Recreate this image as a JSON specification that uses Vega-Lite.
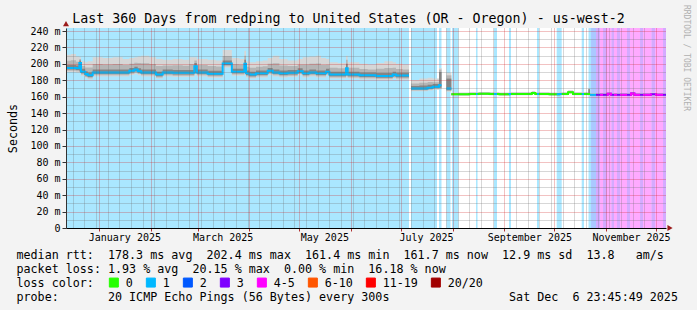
{
  "$schema": "https://vega.github.io/schema/vega-lite/v6.json",
  "width": 600,
  "height": 200,
  "autosize": {"type": "none"},
  "padding": {"left": 66, "top": 28, "right": 31, "bottom": 82},
  "background": "#f3f3f3",
  "title": {
    "text": "Last 360 Days from redping to United States (OR - Oregon) - us-west-2",
    "anchor": "middle", "frame": "group", "dx": -17.5, "offset": -31,
    "baseline": "alphabetic", "font": "DejaVu Sans Mono", "fontSize": 13.3,
    "fontWeight": "normal", "color": "#000000"
  },
  "config": {"view": {"fill": "#ffffff", "stroke": null}, "font": "DejaVu Sans Mono"},
  "datasets": {
    "bands": [
      {"t": "2024-12-11T23:45:49Z", "t2": "2025-07-05T19:00Z", "loss": "1"},
      {"t": "2025-07-07T00:00Z", "t2": "2025-07-22T14:00Z", "loss": "1"},
      {"t": "2025-07-23T19:00Z", "t2": "2025-07-25T07:00Z", "loss": "1"},
      {"t": "2025-07-28T07:00Z", "t2": "2025-07-30T17:00Z", "loss": "1"},
      {"t": "2025-07-31T14:00Z", "t2": "2025-08-04T10:00Z", "loss": "1"},
      {"t": "2025-08-15T00:00Z", "t2": "2025-08-15T22:00Z", "loss": "1"},
      {"t": "2025-08-25T19:00Z", "t2": "2025-08-27T14:00Z", "loss": "1"},
      {"t": "2025-09-03T19:00Z", "t2": "2025-09-05T00:00Z", "loss": "1"},
      {"t": "2025-09-20T14:00Z", "t2": "2025-09-21T19:00Z", "loss": "1"},
      {"t": "2025-10-02T10:00Z", "t2": "2025-10-05T10:00Z", "loss": "1"},
      {"t": "2025-10-17T10:00Z", "t2": "2025-10-18T19:00Z", "loss": "1"},
      {"t": "2025-10-21T12:00Z", "t2": "2025-10-23T00:00Z", "loss": "1"},
      {"t": "2025-10-23T00:00Z", "t2": "2025-10-26T00:00Z", "loss": "2"},
      {"t": "2025-10-26T00:00Z", "t2": "2025-10-28T10:00Z", "loss": "3"},
      {"t": "2025-10-28T10:00Z", "t2": "2025-10-30T05:00Z", "loss": "4-5"},
      {"t": "2025-10-30T05:00Z", "t2": "2025-11-01T14:00Z", "loss": "3"},
      {"t": "2025-11-01T14:00Z", "t2": "2025-11-04T07:00Z", "loss": "4-5"},
      {"t": "2025-11-04T07:00Z", "t2": "2025-11-05T19:00Z", "loss": "3"},
      {"t": "2025-11-05T19:00Z", "t2": "2025-11-07T14:00Z", "loss": "4-5"},
      {"t": "2025-11-07T14:00Z", "t2": "2025-11-09T10:00Z", "loss": "3"},
      {"t": "2025-11-09T10:00Z", "t2": "2025-11-13T14:00Z", "loss": "4-5"},
      {"t": "2025-11-13T14:00Z", "t2": "2025-11-15T10:00Z", "loss": "3"},
      {"t": "2025-11-15T10:00Z", "t2": "2025-11-21T10:00Z", "loss": "4-5"},
      {"t": "2025-11-21T10:00Z", "t2": "2025-11-23T05:00Z", "loss": "3"},
      {"t": "2025-11-23T05:00Z", "t2": "2025-11-28T07:00Z", "loss": "4-5"},
      {"t": "2025-11-28T07:00Z", "t2": "2025-11-30T10:00Z", "loss": "3"},
      {"t": "2025-11-30T10:00Z", "t2": "2025-12-05T05:00Z", "loss": "4-5"},
      {"t": "2025-12-05T05:00Z", "t2": "2025-12-06T23:45:49Z", "loss": "3"}
    ],
    "rtt": [
      {"t": "2024-12-11T23:45:49Z", "seg": "A", "loss": "1", "m": 195, "lo1": 190, "hi1": 211, "lo2": 191.5, "hi2": 203.8, "lo3": 193, "hi3": 198.5},
      {"t": "2024-12-15", "seg": "A", "loss": "1", "m": 195, "lo1": 190, "hi1": 212, "lo2": 191.5, "hi2": 204.4, "lo3": 193, "hi3": 198.5},
      {"t": "2024-12-18", "seg": "A", "loss": "1", "m": 194.5, "lo1": 189.5, "hi1": 209, "lo2": 191, "hi2": 202.5, "lo3": 192.5, "hi3": 198},
      {"t": "2024-12-20", "seg": "A", "loss": "1", "m": 201, "lo1": 189, "hi1": 208, "lo2": 190, "hi2": 206, "lo3": 191, "hi3": 204},
      {"t": "2024-12-21", "seg": "A", "loss": "1", "m": 190.5, "lo1": 185.5, "hi1": 203, "lo2": 187, "hi2": 197.4, "lo3": 188.5, "hi3": 194},
      {"t": "2024-12-23T12:00Z", "seg": "A", "loss": "1", "m": 187.5, "lo1": 182.5, "hi1": 202, "lo2": 184, "hi2": 195.5, "lo3": 185.5, "hi3": 191},
      {"t": "2024-12-25", "seg": "A", "loss": "1", "m": 186, "lo1": 181, "hi1": 203, "lo2": 182.5, "hi2": 195.4, "lo3": 184, "hi3": 189.5},
      {"t": "2024-12-28", "seg": "A", "loss": "1", "m": 189.5, "lo1": 184.5, "hi1": 208, "lo2": 186, "hi2": 199.7, "lo3": 187.5, "hi3": 193},
      {"t": "2025-01-03", "seg": "A", "loss": "1", "m": 189.5, "lo1": 184.5, "hi1": 207, "lo2": 186, "hi2": 199.1, "lo3": 187.5, "hi3": 193},
      {"t": "2025-01-09", "seg": "A", "loss": "1", "m": 189.5, "lo1": 184.5, "hi1": 208, "lo2": 186, "hi2": 199.7, "lo3": 187.5, "hi3": 193},
      {"t": "2025-01-15", "seg": "A", "loss": "1", "m": 189.5, "lo1": 184.5, "hi1": 206, "lo2": 186, "hi2": 198.6, "lo3": 187.5, "hi3": 193},
      {"t": "2025-01-19", "seg": "A", "loss": "1", "m": 191.5, "lo1": 186.5, "hi1": 207, "lo2": 188, "hi2": 200, "lo3": 189.5, "hi3": 195},
      {"t": "2025-01-22", "seg": "A", "loss": "1", "m": 193, "lo1": 188, "hi1": 208, "lo2": 189.5, "hi2": 201.2, "lo3": 191, "hi3": 196.5},
      {"t": "2025-01-24", "seg": "A", "loss": "1", "m": 191, "lo1": 186, "hi1": 209, "lo2": 187.5, "hi2": 200.9, "lo3": 189, "hi3": 194.5},
      {"t": "2025-01-26", "seg": "A", "loss": "1", "m": 189.5, "lo1": 184.5, "hi1": 210, "lo2": 186, "hi2": 200.8, "lo3": 187.5, "hi3": 193},
      {"t": "2025-01-31", "seg": "A", "loss": "1", "m": 189.5, "lo1": 184.5, "hi1": 208, "lo2": 186, "hi2": 199.7, "lo3": 187.5, "hi3": 193},
      {"t": "2025-02-04", "seg": "A", "loss": "1", "m": 187, "lo1": 182, "hi1": 206, "lo2": 183.5, "hi2": 197.5, "lo3": 185, "hi3": 190.5},
      {"t": "2025-02-08", "seg": "A", "loss": "1", "m": 189.5, "lo1": 184.5, "hi1": 205, "lo2": 186, "hi2": 198, "lo3": 187.5, "hi3": 193},
      {"t": "2025-02-14", "seg": "A", "loss": "1", "m": 189, "lo1": 184, "hi1": 206, "lo2": 185.5, "hi2": 198.4, "lo3": 187, "hi3": 192.5},
      {"t": "2025-02-20", "seg": "A", "loss": "1", "m": 189, "lo1": 184, "hi1": 205, "lo2": 185.5, "hi2": 197.8, "lo3": 187, "hi3": 192.5},
      {"t": "2025-02-24", "seg": "A", "loss": "1", "m": 189, "lo1": 184, "hi1": 208, "lo2": 185.5, "hi2": 199.5, "lo3": 187, "hi3": 192.5},
      {"t": "2025-02-27", "seg": "A", "loss": "1", "m": 197, "lo1": 186, "hi1": 208, "lo2": 188, "hi2": 204, "lo3": 189, "hi3": 201},
      {"t": "2025-02-28T12:00Z", "seg": "A", "loss": "1", "m": 189.5, "lo1": 184.5, "hi1": 206, "lo2": 186, "hi2": 198.6, "lo3": 187.5, "hi3": 193},
      {"t": "2025-03-07", "seg": "A", "loss": "1", "m": 188, "lo1": 183, "hi1": 205, "lo2": 184.5, "hi2": 197.4, "lo3": 186, "hi3": 191.5},
      {"t": "2025-03-12", "seg": "A", "loss": "1", "m": 188, "lo1": 183, "hi1": 204, "lo2": 184.5, "hi2": 196.8, "lo3": 186, "hi3": 191.5},
      {"t": "2025-03-16", "seg": "A", "loss": "1", "m": 200.5, "lo1": 195.5, "hi1": 217, "lo2": 197, "hi2": 209.6, "lo3": 198.5, "hi3": 204},
      {"t": "2025-03-21T12:00Z", "seg": "A", "loss": "1", "m": 190.5, "lo1": 185.5, "hi1": 207, "lo2": 187, "hi2": 199.6, "lo3": 188.5, "hi3": 194},
      {"t": "2025-03-26", "seg": "A", "loss": "1", "m": 190.5, "lo1": 185.5, "hi1": 206, "lo2": 187, "hi2": 199, "lo3": 188.5, "hi3": 194},
      {"t": "2025-03-29", "seg": "A", "loss": "1", "m": 200, "lo1": 187, "hi1": 216, "lo2": 188.5, "hi2": 210, "lo3": 190, "hi3": 205},
      {"t": "2025-03-30", "seg": "A", "loss": "1", "m": 188.5, "lo1": 183.5, "hi1": 203, "lo2": 185, "hi2": 196.5, "lo3": 186.5, "hi3": 192},
      {"t": "2025-04-01", "seg": "A", "loss": "1", "m": 187, "lo1": 182, "hi1": 202, "lo2": 183.5, "hi2": 195.3, "lo3": 185, "hi3": 190.5},
      {"t": "2025-04-05", "seg": "A", "loss": "1", "m": 188.5, "lo1": 183.5, "hi1": 203, "lo2": 185, "hi2": 196.5, "lo3": 186.5, "hi3": 192},
      {"t": "2025-04-09", "seg": "A", "loss": "1", "m": 188.5, "lo1": 183.5, "hi1": 204, "lo2": 185, "hi2": 197, "lo3": 186.5, "hi3": 192},
      {"t": "2025-04-12", "seg": "A", "loss": "1", "m": 191.5, "lo1": 186.5, "hi1": 207, "lo2": 188, "hi2": 200, "lo3": 189.5, "hi3": 195},
      {"t": "2025-04-15", "seg": "A", "loss": "1", "m": 189.5, "lo1": 184.5, "hi1": 210, "lo2": 186, "hi2": 200.8, "lo3": 187.5, "hi3": 193},
      {"t": "2025-04-19", "seg": "A", "loss": "1", "m": 188.5, "lo1": 183.5, "hi1": 206, "lo2": 185, "hi2": 198.1, "lo3": 186.5, "hi3": 192},
      {"t": "2025-04-24", "seg": "A", "loss": "1", "m": 189, "lo1": 184, "hi1": 204, "lo2": 185.5, "hi2": 197.3, "lo3": 187, "hi3": 192.5},
      {"t": "2025-04-30", "seg": "A", "loss": "1", "m": 191, "lo1": 186, "hi1": 206, "lo2": 187.5, "hi2": 199.3, "lo3": 189, "hi3": 194.5},
      {"t": "2025-05-03", "seg": "A", "loss": "1", "m": 188.5, "lo1": 183.5, "hi1": 208, "lo2": 185, "hi2": 199.2, "lo3": 186.5, "hi3": 192},
      {"t": "2025-05-07", "seg": "A", "loss": "1", "m": 189.5, "lo1": 184.5, "hi1": 209, "lo2": 186, "hi2": 200.2, "lo3": 187.5, "hi3": 193},
      {"t": "2025-05-11", "seg": "A", "loss": "1", "m": 188.5, "lo1": 183.5, "hi1": 210, "lo2": 185, "hi2": 200.3, "lo3": 186.5, "hi3": 192},
      {"t": "2025-05-14", "seg": "A", "loss": "1", "m": 188.5, "lo1": 183.5, "hi1": 207, "lo2": 185, "hi2": 198.7, "lo3": 186.5, "hi3": 192},
      {"t": "2025-05-17", "seg": "A", "loss": "1", "m": 190.5, "lo1": 185.5, "hi1": 206, "lo2": 187, "hi2": 199, "lo3": 188.5, "hi3": 194},
      {"t": "2025-05-19", "seg": "A", "loss": "1", "m": 187, "lo1": 182, "hi1": 202, "lo2": 183.5, "hi2": 195.3, "lo3": 185, "hi3": 190.5},
      {"t": "2025-05-24", "seg": "A", "loss": "1", "m": 187, "lo1": 182, "hi1": 201, "lo2": 183.5, "hi2": 194.7, "lo3": 185, "hi3": 190.5},
      {"t": "2025-05-29", "seg": "A", "loss": "1", "m": 194.5, "lo1": 183.5, "hi1": 210, "lo2": 185, "hi2": 205, "lo3": 186, "hi3": 200},
      {"t": "2025-05-30", "seg": "A", "loss": "1", "m": 187, "lo1": 182, "hi1": 202, "lo2": 183.5, "hi2": 195.3, "lo3": 185, "hi3": 190.5},
      {"t": "2025-06-06", "seg": "A", "loss": "1", "m": 186, "lo1": 181, "hi1": 200, "lo2": 182.5, "hi2": 193.7, "lo3": 184, "hi3": 189.5},
      {"t": "2025-06-11", "seg": "A", "loss": "1", "m": 186, "lo1": 181, "hi1": 199, "lo2": 182.5, "hi2": 193.2, "lo3": 184, "hi3": 189.5},
      {"t": "2025-06-16", "seg": "A", "loss": "1", "m": 185.2, "lo1": 180.2, "hi1": 201, "lo2": 181.7, "hi2": 193.9, "lo3": 183.2, "hi3": 188.7},
      {"t": "2025-06-21", "seg": "A", "loss": "1", "m": 185.2, "lo1": 180.2, "hi1": 203, "lo2": 181.7, "hi2": 195, "lo3": 183.2, "hi3": 188.7},
      {"t": "2025-06-26", "seg": "A", "loss": "1", "m": 187, "lo1": 182, "hi1": 202, "lo2": 183.5, "hi2": 195.3, "lo3": 185, "hi3": 190.5},
      {"t": "2025-06-28", "seg": "A", "loss": "1", "m": 185.7, "lo1": 180.7, "hi1": 200, "lo2": 182.2, "hi2": 193.6, "lo3": 183.7, "hi3": 189.2},
      {"t": "2025-07-02", "seg": "A", "loss": "1", "m": 185.7, "lo1": 180.7, "hi1": 199, "lo2": 182.2, "hi2": 193, "lo3": 183.7, "hi3": 189.2},
      {"t": "2025-07-05T19:00Z", "seg": "A", "loss": "1", "m": 185.7, "lo1": 180.7, "hi1": 199, "lo2": 182.2, "hi2": 193, "lo3": 183.7, "hi3": 189.2},
      {"t": "2025-07-07", "seg": "B", "loss": "1", "m": 170, "lo1": 166.5, "hi1": 180, "lo2": 167.5, "hi2": 176, "lo3": 168.5, "hi3": 173},
      {"t": "2025-07-12", "seg": "B", "loss": "1", "m": 170, "lo1": 166.5, "hi1": 182, "lo2": 167.5, "hi2": 177, "lo3": 168.5, "hi3": 173.5},
      {"t": "2025-07-17", "seg": "B", "loss": "1", "m": 171, "lo1": 167.5, "hi1": 183, "lo2": 168.5, "hi2": 178, "lo3": 169.5, "hi3": 174.5},
      {"t": "2025-07-20", "seg": "B", "loss": "1", "m": 172, "lo1": 168.5, "hi1": 182, "lo2": 169.5, "hi2": 177.5, "lo3": 170.5, "hi3": 175.5},
      {"t": "2025-07-23T19:00Z", "seg": "B", "loss": "1", "m": 174, "lo1": 169, "hi1": 195, "lo2": 170, "hi2": 193, "lo3": 171, "hi3": 190},
      {"t": "2025-07-25T07:00Z", "seg": "B", "loss": "1", "m": 174, "lo1": 169, "hi1": 195, "lo2": 170, "hi2": 193, "lo3": 171, "hi3": 190},
      {"t": "2025-07-28T07:00Z", "seg": "B2", "loss": "1", "m": 170, "lo1": 166, "hi1": 189, "lo2": 167, "hi2": 186, "lo3": 168, "hi3": 182},
      {"t": "2025-07-31T05:00Z", "seg": "B2", "loss": "1", "m": 170, "lo1": 166, "hi1": 189, "lo2": 167, "hi2": 186, "lo3": 168, "hi3": 182},
      {"t": "2025-07-31T05:00Z", "seg": "C", "loss": "0", "m": 163, "lo1": 161.4, "hi1": 165.2, "lo2": 161.8, "hi2": 164.5, "lo3": 162.2, "hi3": 163.9},
      {"t": "2025-08-05", "seg": "C", "loss": "0", "m": 162.8, "lo1": 161.2, "hi1": 165, "lo2": 161.6, "hi2": 164.3, "lo3": 162, "hi3": 163.7},
      {"t": "2025-08-11", "seg": "C", "loss": "0", "m": 163.3, "lo1": 161.7, "hi1": 165.5, "lo2": 162.1, "hi2": 164.8, "lo3": 162.5, "hi3": 164.2},
      {"t": "2025-08-17", "seg": "C", "loss": "0", "m": 163.5, "lo1": 161.9, "hi1": 165.7, "lo2": 162.3, "hi2": 165, "lo3": 162.7, "hi3": 164.4},
      {"t": "2025-08-23", "seg": "C", "loss": "0", "m": 163.3, "lo1": 161.7, "hi1": 165.5, "lo2": 162.1, "hi2": 164.8, "lo3": 162.5, "hi3": 164.2},
      {"t": "2025-08-29", "seg": "C", "loss": "0", "m": 163, "lo1": 161.4, "hi1": 165.2, "lo2": 161.8, "hi2": 164.5, "lo3": 162.2, "hi3": 163.9},
      {"t": "2025-09-04", "seg": "C", "loss": "0", "m": 163.3, "lo1": 161.7, "hi1": 165.5, "lo2": 162.1, "hi2": 164.8, "lo3": 162.5, "hi3": 164.2},
      {"t": "2025-09-17T12:00Z", "seg": "C", "loss": "0", "m": 164.5, "lo1": 162.9, "hi1": 166.7, "lo2": 163.3, "hi2": 166, "lo3": 163.7, "hi3": 165.4},
      {"t": "2025-09-19T12:00Z", "seg": "C", "loss": "0", "m": 163.3, "lo1": 161.7, "hi1": 165.5, "lo2": 162.1, "hi2": 164.8, "lo3": 162.5, "hi3": 164.2},
      {"t": "2025-09-28", "seg": "C", "loss": "0", "m": 163, "lo1": 161.4, "hi1": 165.2, "lo2": 161.8, "hi2": 164.5, "lo3": 162.2, "hi3": 163.9},
      {"t": "2025-10-04", "seg": "C", "loss": "0", "m": 163.3, "lo1": 161.7, "hi1": 165.5, "lo2": 162.1, "hi2": 164.8, "lo3": 162.5, "hi3": 164.2},
      {"t": "2025-10-09T05:00Z", "seg": "C", "loss": "0", "m": 165.5, "lo1": 163.9, "hi1": 167.7, "lo2": 164.3, "hi2": 167, "lo3": 164.7, "hi3": 166.4},
      {"t": "2025-10-12T05:00Z", "seg": "C", "loss": "0", "m": 163.2, "lo1": 161.6, "hi1": 165.4, "lo2": 162, "hi2": 164.7, "lo3": 162.4, "hi3": 164.1},
      {"t": "2025-10-21T10:00Z", "seg": "C", "loss": "0", "m": 163.2, "lo1": 161.5, "hi1": 170, "lo2": 162, "hi2": 169.5, "lo3": 162.4, "hi3": 169},
      {"t": "2025-10-22T10:00Z", "seg": "C", "loss": "0", "m": 163.2, "lo1": 161.5, "hi1": 170, "lo2": 162, "hi2": 169.5, "lo3": 162.4, "hi3": 169},
      {"t": "2025-10-22T10:00Z", "seg": "D", "loss": "1", "m": 162.3, "lo1": 160.7, "hi1": 164.5, "lo2": 161.1, "hi2": 163.8, "lo3": 161.5, "hi3": 163.2},
      {"t": "2025-10-26", "seg": "D", "loss": "1", "m": 162.3, "lo1": 160.7, "hi1": 164.5, "lo2": 161.1, "hi2": 163.8, "lo3": 161.5, "hi3": 163.2},
      {"t": "2025-10-26", "seg": "E", "loss": "3", "m": 162.3, "lo1": 160.7, "hi1": 164.5, "lo2": 161.1, "hi2": 163.8, "lo3": 161.5, "hi3": 163.2},
      {"t": "2025-11-02", "seg": "E", "loss": "3", "m": 163.5, "lo1": 161.9, "hi1": 165.7, "lo2": 162.3, "hi2": 165, "lo3": 162.7, "hi3": 164.4},
      {"t": "2025-11-04", "seg": "E", "loss": "3", "m": 162.3, "lo1": 160.7, "hi1": 164.5, "lo2": 161.1, "hi2": 163.8, "lo3": 161.5, "hi3": 163.2},
      {"t": "2025-11-16", "seg": "E", "loss": "3", "m": 163.8, "lo1": 162.2, "hi1": 166, "lo2": 162.6, "hi2": 165.3, "lo3": 163, "hi3": 164.7},
      {"t": "2025-11-18", "seg": "E", "loss": "3", "m": 162.3, "lo1": 160.7, "hi1": 164.5, "lo2": 161.1, "hi2": 163.8, "lo3": 161.5, "hi3": 163.2},
      {"t": "2025-11-28", "seg": "E", "loss": "3", "m": 162.8, "lo1": 161.2, "hi1": 165, "lo2": 161.6, "hi2": 164.3, "lo3": 162, "hi3": 163.7},
      {"t": "2025-12-01", "seg": "E", "loss": "3", "m": 162.3, "lo1": 160.7, "hi1": 164.5, "lo2": 161.1, "hi2": 163.8, "lo3": 161.5, "hi3": 163.2},
      {"t": "2025-12-06T23:45:49Z", "seg": "E", "loss": "3", "m": 162.3, "lo1": 160.7, "hi1": 164.5, "lo2": 161.1, "hi2": 163.8, "lo3": 161.5, "hi3": 163.2}
    ],
    "ov": [
      {"t": "2025-08-15T00:00Z", "seg": "o1", "loss": "1", "m": 163.3},
      {"t": "2025-08-15T22:00Z", "seg": "o1", "loss": "1", "m": 163.3},
      {"t": "2025-08-25T19:00Z", "seg": "o2", "loss": "1", "m": 163.3},
      {"t": "2025-08-27T14:00Z", "seg": "o2", "loss": "1", "m": 163.3},
      {"t": "2025-09-03T19:00Z", "seg": "o3", "loss": "1", "m": 163},
      {"t": "2025-09-04T00:00Z", "seg": "o3", "loss": "1", "m": 163.3},
      {"t": "2025-09-05T00:00Z", "seg": "o3", "loss": "1", "m": 163.3},
      {"t": "2025-09-20T14:00Z", "seg": "o4", "loss": "1", "m": 163.3},
      {"t": "2025-09-21T19:00Z", "seg": "o4", "loss": "1", "m": 163.3},
      {"t": "2025-10-02T10:00Z", "seg": "o5", "loss": "1", "m": 163},
      {"t": "2025-10-04T00:00Z", "seg": "o5", "loss": "1", "m": 163.3},
      {"t": "2025-10-05T10:00Z", "seg": "o5", "loss": "1", "m": 163.3},
      {"t": "2025-10-17T10:00Z", "seg": "o6", "loss": "1", "m": 163.2},
      {"t": "2025-10-18T19:00Z", "seg": "o6", "loss": "1", "m": 163.2},
      {"t": "2025-10-28T10:00Z", "seg": "p1", "loss": "4-5", "m": 162.3},
      {"t": "2025-10-30T05:00Z", "seg": "p1", "loss": "4-5", "m": 162.3},
      {"t": "2025-11-01T14:00Z", "seg": "p2", "loss": "4-5", "m": 162.3},
      {"t": "2025-11-02T00:00Z", "seg": "p2", "loss": "4-5", "m": 163.5},
      {"t": "2025-11-04T00:00Z", "seg": "p2", "loss": "4-5", "m": 162.3},
      {"t": "2025-11-04T07:00Z", "seg": "p2", "loss": "4-5", "m": 162.3},
      {"t": "2025-11-05T19:00Z", "seg": "p3", "loss": "4-5", "m": 162.3},
      {"t": "2025-11-07T14:00Z", "seg": "p3", "loss": "4-5", "m": 162.3},
      {"t": "2025-11-09T10:00Z", "seg": "p4", "loss": "4-5", "m": 162.3},
      {"t": "2025-11-13T14:00Z", "seg": "p4", "loss": "4-5", "m": 162.3},
      {"t": "2025-11-15T10:00Z", "seg": "p5", "loss": "4-5", "m": 162.3},
      {"t": "2025-11-16T00:00Z", "seg": "p5", "loss": "4-5", "m": 163.8},
      {"t": "2025-11-18T00:00Z", "seg": "p5", "loss": "4-5", "m": 162.3},
      {"t": "2025-11-21T10:00Z", "seg": "p5", "loss": "4-5", "m": 162.3},
      {"t": "2025-11-23T05:00Z", "seg": "p6", "loss": "4-5", "m": 162.3},
      {"t": "2025-11-28T00:00Z", "seg": "p6", "loss": "4-5", "m": 162.8},
      {"t": "2025-11-28T07:00Z", "seg": "p6", "loss": "4-5", "m": 162.8},
      {"t": "2025-11-30T10:00Z", "seg": "p7", "loss": "4-5", "m": 162.8},
      {"t": "2025-12-01T00:00Z", "seg": "p7", "loss": "4-5", "m": 162.3},
      {"t": "2025-12-05T05:00Z", "seg": "p7", "loss": "4-5", "m": 162.3}
    ],
    "credit": [
      {"label": "RRDTOOL / TOBI OETIKER"}
    ]
  },
  "layer": [
    {
      "encoding": {
        "x": {
          "field": "t", "type": "temporal",
          "scale": {"type": "utc", "domain": [
            {"year": 2024, "month": 12, "date": 11, "hours": 23, "minutes": 45, "seconds": 49, "utc": true},
            {"year": 2025, "month": 12, "date": 6, "hours": 23, "minutes": 45, "seconds": 49, "utc": true}
          ]},
          "axis": {"values": [{"year": 2024, "month": 12, "date": 16, "utc": true}, {"year": 2024, "month": 12, "date": 23, "utc": true}, {"year": 2024, "month": 12, "date": 30, "utc": true}, {"year": 2025, "month": 1, "date": 1, "utc": true}, {"year": 2025, "month": 1, "date": 6, "utc": true}, {"year": 2025, "month": 1, "date": 13, "utc": true}, {"year": 2025, "month": 1, "date": 16, "utc": true}, {"year": 2025, "month": 1, "date": 20, "utc": true}, {"year": 2025, "month": 1, "date": 27, "utc": true}, {"year": 2025, "month": 2, "date": 1, "utc": true}, {"year": 2025, "month": 2, "date": 3, "utc": true}, {"year": 2025, "month": 2, "date": 10, "utc": true}, {"year": 2025, "month": 2, "date": 17, "utc": true}, {"year": 2025, "month": 2, "date": 24, "utc": true}, {"year": 2025, "month": 3, "date": 1, "utc": true}, {"year": 2025, "month": 3, "date": 3, "utc": true}, {"year": 2025, "month": 3, "date": 10, "utc": true}, {"year": 2025, "month": 3, "date": 16, "utc": true}, {"year": 2025, "month": 3, "date": 17, "utc": true}, {"year": 2025, "month": 3, "date": 24, "utc": true}, {"year": 2025, "month": 3, "date": 31, "utc": true}, {"year": 2025, "month": 4, "date": 1, "utc": true}, {"year": 2025, "month": 4, "date": 7, "utc": true}, {"year": 2025, "month": 4, "date": 14, "utc": true}, {"year": 2025, "month": 4, "date": 21, "utc": true}, {"year": 2025, "month": 4, "date": 28, "utc": true}, {"year": 2025, "month": 5, "date": 1, "utc": true}, {"year": 2025, "month": 5, "date": 5, "utc": true}, {"year": 2025, "month": 5, "date": 12, "utc": true}, {"year": 2025, "month": 5, "date": 16, "utc": true}, {"year": 2025, "month": 5, "date": 19, "utc": true}, {"year": 2025, "month": 5, "date": 26, "utc": true}, {"year": 2025, "month": 6, "date": 1, "utc": true}, {"year": 2025, "month": 6, "date": 2, "utc": true}, {"year": 2025, "month": 6, "date": 9, "utc": true}, {"year": 2025, "month": 6, "date": 16, "utc": true}, {"year": 2025, "month": 6, "date": 23, "utc": true}, {"year": 2025, "month": 6, "date": 30, "utc": true}, {"year": 2025, "month": 7, "date": 1, "utc": true}, {"year": 2025, "month": 7, "date": 7, "utc": true}, {"year": 2025, "month": 7, "date": 14, "utc": true}, {"year": 2025, "month": 7, "date": 16, "utc": true}, {"year": 2025, "month": 7, "date": 21, "utc": true}, {"year": 2025, "month": 7, "date": 28, "utc": true}, {"year": 2025, "month": 8, "date": 1, "utc": true}, {"year": 2025, "month": 8, "date": 4, "utc": true}, {"year": 2025, "month": 8, "date": 11, "utc": true}, {"year": 2025, "month": 8, "date": 18, "utc": true}, {"year": 2025, "month": 8, "date": 25, "utc": true}, {"year": 2025, "month": 9, "date": 1, "utc": true}, {"year": 2025, "month": 9, "date": 8, "utc": true}, {"year": 2025, "month": 9, "date": 15, "utc": true}, {"year": 2025, "month": 9, "date": 16, "utc": true}, {"year": 2025, "month": 9, "date": 22, "utc": true}, {"year": 2025, "month": 9, "date": 29, "utc": true}, {"year": 2025, "month": 10, "date": 1, "utc": true}, {"year": 2025, "month": 10, "date": 6, "utc": true}, {"year": 2025, "month": 10, "date": 13, "utc": true}, {"year": 2025, "month": 10, "date": 20, "utc": true}, {"year": 2025, "month": 10, "date": 27, "utc": true}, {"year": 2025, "month": 11, "date": 1, "utc": true}, {"year": 2025, "month": 11, "date": 3, "utc": true}, {"year": 2025, "month": 11, "date": 10, "utc": true}, {"year": 2025, "month": 11, "date": 16, "utc": true}, {"year": 2025, "month": 11, "date": 17, "utc": true}, {"year": 2025, "month": 11, "date": 24, "utc": true}, {"year": 2025, "month": 12, "date": 1, "utc": true}], "labelExpr": "utcdate(datum.value) == 16 && utcmonth(datum.value) % 2 == 0 ? utcFormat(datum.value, '%B %Y') : ''", "labelFont": "DejaVu Sans Mono", "labelFontSize": 10, "labelColor": "#000000", "labelPadding": 1, "labelOverlap": false, "labelFlush": false, "labelBound": false, "tickSize": 3, "tickColor": "#b03030", "tickOpacity": {"condition": {"test": "utcdate(datum.value) == 1", "value": 1}, "value": 0}, "grid": true, "gridDash": [1, 1], "gridWidth": 1, "gridColor": {"condition": {"test": "utcdate(datum.value) == 1", "value": "#d02020"}, "value": "#707070"}, "gridOpacity": {"condition": {"test": "utcdate(datum.value) == 16 && utcmonth(datum.value) % 2 == 0", "value": 0}, "value": 0.55}, "domainColor": "#000000", "domainWidth": 1, "title": ["median rtt:\u00a0\u00a0178.3 ms avg\u00a0\u00a0202.4 ms max\u00a0\u00a0161.4 ms min\u00a0\u00a0161.7 ms now\u00a0\u00a012.9 ms sd\u00a0\u00a013.8\u00a0\u00a0\u00a0am/s", "packet loss: 1.93 % avg\u00a0\u00a020.15 % max\u00a0\u00a00.00 % min\u00a0\u00a016.18 % now", "loss color:", "probe:\u00a0\u00a0\u00a0\u00a0\u00a0\u00a0\u00a020 ICMP Echo Pings (56 Bytes) every 300s\u00a0\u00a0\u00a0\u00a0\u00a0\u00a0\u00a0\u00a0\u00a0\u00a0\u00a0\u00a0\u00a0\u00a0\u00a0\u00a0\u00a0Sat Dec\u00a0\u00a06 23:45:49 2025"], "titleX": -50, "titleY": 30, "titleAlign": "left", "titleAnchor": "start", "titleBaseline": "alphabetic", "titleFont": "DejaVu Sans Mono", "titleFontSize": 11.7, "titleFontWeight": "normal", "titleColor": "#000000", "titleLineHeight": 14, "zindex": 1}
        }
      },
      "layer": [
        {
          "data": {"name": "bands"},
          "mark": {"type": "rect", "opacity": 0.333},
          "encoding": {
            "x2": {"field": "t2"},
            "color": {
              "field": "loss", "type": "nominal",
              "scale": {"domain": ["0", "1", "2", "3", "4-5", "6-10", "11-19", "20/20"],
                        "range": ["#26ff00", "#00b8ff", "#0059ff", "#7e00ff", "#ff00ff", "#ff5500", "#ff0000", "#a10000"]},
              "legend": {
                "orient": "none", "legendX": 42, "legendY": 248.5, "direction": "horizontal",
                "title": null, "symbolType": "square", "symbolSize": 81,
                "symbolStrokeColor": "#000000", "symbolStrokeWidth": 1, "symbolOpacity": 1,
                "labelFont": "DejaVu Sans Mono", "labelFontSize": 11.7, "labelColor": "#000000",
                "labelOffset": 6, "columnPadding": 11, "padding": 0
              }
            }
          }
        },
        {
          "data": {"name": "rtt"},
          "mark": {"type": "area", "interpolate": "step-after", "color": "#d6d6d6"},
          "encoding": {
            "y": {"field": "lo1", "type": "quantitative", "stack": null,
              "scale": {"domain": [0, 243.66], "nice": false, "zero": false},
              "axis": {"orient": "left", "values": [0, 10, 20, 30, 40, 50, 60, 70, 80, 90, 100, 110, 120, 130, 140, 150, 160, 170, 180, 190, 200, 210, 220, 230, 240], "tickCount": 25, "labelExpr": "datum.value % 20 == 0 ? (datum.value == 0 ? '0\u00a0\u00a0' : datum.value + ' m') : ''", "labelFont": "DejaVu Sans Mono", "labelFontSize": 10, "labelColor": "#000000", "labelPadding": 2, "labelOverlap": false, "labelFlush": false, "labelBound": false, "tickSize": 4, "tickColor": "#333333", "tickOpacity": {"condition": {"test": "datum.value % 20 == 0", "value": 1}, "value": 0}, "grid": true, "gridDash": [1, 1], "gridWidth": 1, "gridColor": {"condition": {"test": "datum.value % 20 == 0", "value": "#d02020"}, "value": "#707070"}, "gridOpacity": 0.55, "domainColor": "#333333", "domainWidth": 1, "title": "Seconds", "titleX": -50, "titleY": 100, "titleAngle": -90, "titleAlign": "center", "titleBaseline": "alphabetic", "titleFont": "DejaVu Sans Mono", "titleFontSize": 11.7, "titleFontWeight": "normal", "titleColor": "#000000", "zindex": 1}},
            "y2": {"field": "hi1"},
            "detail": {"field": "seg"}
          }
        },
        {
          "data": {"name": "rtt"},
          "mark": {"type": "area", "interpolate": "step-after", "color": "#b5b5b5"},
          "encoding": {
            "y": {"field": "lo2", "type": "quantitative", "stack": null,
              "scale": {"domain": [0, 243.66], "nice": false, "zero": false},
              "axis": {"orient": "left", "values": [0, 10, 20, 30, 40, 50, 60, 70, 80, 90, 100, 110, 120, 130, 140, 150, 160, 170, 180, 190, 200, 210, 220, 230, 240], "tickCount": 25, "labelExpr": "datum.value % 20 == 0 ? (datum.value == 0 ? '0\u00a0\u00a0' : datum.value + ' m') : ''", "labelFont": "DejaVu Sans Mono", "labelFontSize": 10, "labelColor": "#000000", "labelPadding": 2, "labelOverlap": false, "labelFlush": false, "labelBound": false, "tickSize": 4, "tickColor": "#333333", "tickOpacity": {"condition": {"test": "datum.value % 20 == 0", "value": 1}, "value": 0}, "grid": true, "gridDash": [1, 1], "gridWidth": 1, "gridColor": {"condition": {"test": "datum.value % 20 == 0", "value": "#d02020"}, "value": "#707070"}, "gridOpacity": 0.55, "domainColor": "#333333", "domainWidth": 1, "title": "Seconds", "titleX": -50, "titleY": 100, "titleAngle": -90, "titleAlign": "center", "titleBaseline": "alphabetic", "titleFont": "DejaVu Sans Mono", "titleFontSize": 11.7, "titleFontWeight": "normal", "titleColor": "#000000", "zindex": 1}},
            "y2": {"field": "hi2"},
            "detail": {"field": "seg"}
          }
        },
        {
          "data": {"name": "rtt"},
          "mark": {"type": "area", "interpolate": "step-after", "color": "#858585"},
          "encoding": {
            "y": {"field": "lo3", "type": "quantitative", "stack": null,
              "scale": {"domain": [0, 243.66], "nice": false, "zero": false},
              "axis": {"orient": "left", "values": [0, 10, 20, 30, 40, 50, 60, 70, 80, 90, 100, 110, 120, 130, 140, 150, 160, 170, 180, 190, 200, 210, 220, 230, 240], "tickCount": 25, "labelExpr": "datum.value % 20 == 0 ? (datum.value == 0 ? '0\u00a0\u00a0' : datum.value + ' m') : ''", "labelFont": "DejaVu Sans Mono", "labelFontSize": 10, "labelColor": "#000000", "labelPadding": 2, "labelOverlap": false, "labelFlush": false, "labelBound": false, "tickSize": 4, "tickColor": "#333333", "tickOpacity": {"condition": {"test": "datum.value % 20 == 0", "value": 1}, "value": 0}, "grid": true, "gridDash": [1, 1], "gridWidth": 1, "gridColor": {"condition": {"test": "datum.value % 20 == 0", "value": "#d02020"}, "value": "#707070"}, "gridOpacity": 0.55, "domainColor": "#333333", "domainWidth": 1, "title": "Seconds", "titleX": -50, "titleY": 100, "titleAngle": -90, "titleAlign": "center", "titleBaseline": "alphabetic", "titleFont": "DejaVu Sans Mono", "titleFontSize": 11.7, "titleFontWeight": "normal", "titleColor": "#000000", "zindex": 1}},
            "y2": {"field": "hi3"},
            "detail": {"field": "seg"}
          }
        },
        {
          "data": {"name": "rtt"},
          "mark": {"type": "line", "interpolate": "step-after", "strokeWidth": 2},
          "encoding": {
            "y": {"field": "m", "type": "quantitative",
              "scale": {"domain": [0, 243.66], "nice": false, "zero": false},
              "axis": {"orient": "left", "values": [0, 10, 20, 30, 40, 50, 60, 70, 80, 90, 100, 110, 120, 130, 140, 150, 160, 170, 180, 190, 200, 210, 220, 230, 240], "tickCount": 25, "labelExpr": "datum.value % 20 == 0 ? (datum.value == 0 ? '0\u00a0\u00a0' : datum.value + ' m') : ''", "labelFont": "DejaVu Sans Mono", "labelFontSize": 10, "labelColor": "#000000", "labelPadding": 2, "labelOverlap": false, "labelFlush": false, "labelBound": false, "tickSize": 4, "tickColor": "#333333", "tickOpacity": {"condition": {"test": "datum.value % 20 == 0", "value": 1}, "value": 0}, "grid": true, "gridDash": [1, 1], "gridWidth": 1, "gridColor": {"condition": {"test": "datum.value % 20 == 0", "value": "#d02020"}, "value": "#707070"}, "gridOpacity": 0.55, "domainColor": "#333333", "domainWidth": 1, "title": "Seconds", "titleX": -50, "titleY": 100, "titleAngle": -90, "titleAlign": "center", "titleBaseline": "alphabetic", "titleFont": "DejaVu Sans Mono", "titleFontSize": 11.7, "titleFontWeight": "normal", "titleColor": "#000000", "zindex": 1}},
            "stroke": {
              "field": "loss", "type": "nominal", "legend": null,
              "scale": {"domain": ["0", "1", "2", "3", "4-5", "6-10", "11-19", "20/20"],
                        "range": ["#26ff00", "#00b8ff", "#0059ff", "#7e00ff", "#ff00ff", "#ff5500", "#ff0000", "#a10000"]}
            },
            "detail": {"field": "seg"}
          }
        },
        {
          "data": {"name": "ov"},
          "mark": {"type": "line", "interpolate": "step-after", "strokeWidth": 2},
          "encoding": {
            "y": {"field": "m", "type": "quantitative",
              "scale": {"domain": [0, 243.66], "nice": false, "zero": false},
              "axis": {"orient": "left", "values": [0, 10, 20, 30, 40, 50, 60, 70, 80, 90, 100, 110, 120, 130, 140, 150, 160, 170, 180, 190, 200, 210, 220, 230, 240], "tickCount": 25, "labelExpr": "datum.value % 20 == 0 ? (datum.value == 0 ? '0\u00a0\u00a0' : datum.value + ' m') : ''", "labelFont": "DejaVu Sans Mono", "labelFontSize": 10, "labelColor": "#000000", "labelPadding": 2, "labelOverlap": false, "labelFlush": false, "labelBound": false, "tickSize": 4, "tickColor": "#333333", "tickOpacity": {"condition": {"test": "datum.value % 20 == 0", "value": 1}, "value": 0}, "grid": true, "gridDash": [1, 1], "gridWidth": 1, "gridColor": {"condition": {"test": "datum.value % 20 == 0", "value": "#d02020"}, "value": "#707070"}, "gridOpacity": 0.55, "domainColor": "#333333", "domainWidth": 1, "title": "Seconds", "titleX": -50, "titleY": 100, "titleAngle": -90, "titleAlign": "center", "titleBaseline": "alphabetic", "titleFont": "DejaVu Sans Mono", "titleFontSize": 11.7, "titleFontWeight": "normal", "titleColor": "#000000", "zindex": 1}},
            "stroke": {"field": "loss", "type": "nominal", "legend": null},
            "detail": {"field": "seg"}
          }
        }
      ]
    },
    {
      "data": {"name": "credit"},
      "mark": {"type": "point", "shape": "triangle-up", "filled": true, "size": 36, "color": "#9b1b1b", "opacity": 1},
      "encoding": {
        "x": {"datum": {"year": 2024, "month": 12, "date": 11, "hours": 23, "minutes": 45, "seconds": 49, "utc": true}, "type": "temporal",
          "axis": {"values": [{"year": 2024, "month": 12, "date": 16, "utc": true}, {"year": 2024, "month": 12, "date": 23, "utc": true}, {"year": 2024, "month": 12, "date": 30, "utc": true}, {"year": 2025, "month": 1, "date": 1, "utc": true}, {"year": 2025, "month": 1, "date": 6, "utc": true}, {"year": 2025, "month": 1, "date": 13, "utc": true}, {"year": 2025, "month": 1, "date": 16, "utc": true}, {"year": 2025, "month": 1, "date": 20, "utc": true}, {"year": 2025, "month": 1, "date": 27, "utc": true}, {"year": 2025, "month": 2, "date": 1, "utc": true}, {"year": 2025, "month": 2, "date": 3, "utc": true}, {"year": 2025, "month": 2, "date": 10, "utc": true}, {"year": 2025, "month": 2, "date": 17, "utc": true}, {"year": 2025, "month": 2, "date": 24, "utc": true}, {"year": 2025, "month": 3, "date": 1, "utc": true}, {"year": 2025, "month": 3, "date": 3, "utc": true}, {"year": 2025, "month": 3, "date": 10, "utc": true}, {"year": 2025, "month": 3, "date": 16, "utc": true}, {"year": 2025, "month": 3, "date": 17, "utc": true}, {"year": 2025, "month": 3, "date": 24, "utc": true}, {"year": 2025, "month": 3, "date": 31, "utc": true}, {"year": 2025, "month": 4, "date": 1, "utc": true}, {"year": 2025, "month": 4, "date": 7, "utc": true}, {"year": 2025, "month": 4, "date": 14, "utc": true}, {"year": 2025, "month": 4, "date": 21, "utc": true}, {"year": 2025, "month": 4, "date": 28, "utc": true}, {"year": 2025, "month": 5, "date": 1, "utc": true}, {"year": 2025, "month": 5, "date": 5, "utc": true}, {"year": 2025, "month": 5, "date": 12, "utc": true}, {"year": 2025, "month": 5, "date": 16, "utc": true}, {"year": 2025, "month": 5, "date": 19, "utc": true}, {"year": 2025, "month": 5, "date": 26, "utc": true}, {"year": 2025, "month": 6, "date": 1, "utc": true}, {"year": 2025, "month": 6, "date": 2, "utc": true}, {"year": 2025, "month": 6, "date": 9, "utc": true}, {"year": 2025, "month": 6, "date": 16, "utc": true}, {"year": 2025, "month": 6, "date": 23, "utc": true}, {"year": 2025, "month": 6, "date": 30, "utc": true}, {"year": 2025, "month": 7, "date": 1, "utc": true}, {"year": 2025, "month": 7, "date": 7, "utc": true}, {"year": 2025, "month": 7, "date": 14, "utc": true}, {"year": 2025, "month": 7, "date": 16, "utc": true}, {"year": 2025, "month": 7, "date": 21, "utc": true}, {"year": 2025, "month": 7, "date": 28, "utc": true}, {"year": 2025, "month": 8, "date": 1, "utc": true}, {"year": 2025, "month": 8, "date": 4, "utc": true}, {"year": 2025, "month": 8, "date": 11, "utc": true}, {"year": 2025, "month": 8, "date": 18, "utc": true}, {"year": 2025, "month": 8, "date": 25, "utc": true}, {"year": 2025, "month": 9, "date": 1, "utc": true}, {"year": 2025, "month": 9, "date": 8, "utc": true}, {"year": 2025, "month": 9, "date": 15, "utc": true}, {"year": 2025, "month": 9, "date": 16, "utc": true}, {"year": 2025, "month": 9, "date": 22, "utc": true}, {"year": 2025, "month": 9, "date": 29, "utc": true}, {"year": 2025, "month": 10, "date": 1, "utc": true}, {"year": 2025, "month": 10, "date": 6, "utc": true}, {"year": 2025, "month": 10, "date": 13, "utc": true}, {"year": 2025, "month": 10, "date": 20, "utc": true}, {"year": 2025, "month": 10, "date": 27, "utc": true}, {"year": 2025, "month": 11, "date": 1, "utc": true}, {"year": 2025, "month": 11, "date": 3, "utc": true}, {"year": 2025, "month": 11, "date": 10, "utc": true}, {"year": 2025, "month": 11, "date": 16, "utc": true}, {"year": 2025, "month": 11, "date": 17, "utc": true}, {"year": 2025, "month": 11, "date": 24, "utc": true}, {"year": 2025, "month": 12, "date": 1, "utc": true}], "labelExpr": "utcdate(datum.value) == 16 && utcmonth(datum.value) % 2 == 0 ? utcFormat(datum.value, '%B %Y') : ''", "labelFont": "DejaVu Sans Mono", "labelFontSize": 10, "labelColor": "#000000", "labelPadding": 1, "labelOverlap": false, "labelFlush": false, "labelBound": false, "tickSize": 3, "tickColor": "#b03030", "tickOpacity": {"condition": {"test": "utcdate(datum.value) == 1", "value": 1}, "value": 0}, "grid": true, "gridDash": [1, 1], "gridWidth": 1, "gridColor": {"condition": {"test": "utcdate(datum.value) == 1", "value": "#d02020"}, "value": "#707070"}, "gridOpacity": {"condition": {"test": "utcdate(datum.value) == 16 && utcmonth(datum.value) % 2 == 0", "value": 0}, "value": 0.55}, "domainColor": "#000000", "domainWidth": 1, "title": ["median rtt:\u00a0\u00a0178.3 ms avg\u00a0\u00a0202.4 ms max\u00a0\u00a0161.4 ms min\u00a0\u00a0161.7 ms now\u00a0\u00a012.9 ms sd\u00a0\u00a013.8\u00a0\u00a0\u00a0am/s", "packet loss: 1.93 % avg\u00a0\u00a020.15 % max\u00a0\u00a00.00 % min\u00a0\u00a016.18 % now", "loss color:", "probe:\u00a0\u00a0\u00a0\u00a0\u00a0\u00a0\u00a020 ICMP Echo Pings (56 Bytes) every 300s\u00a0\u00a0\u00a0\u00a0\u00a0\u00a0\u00a0\u00a0\u00a0\u00a0\u00a0\u00a0\u00a0\u00a0\u00a0\u00a0\u00a0Sat Dec\u00a0\u00a06 23:45:49 2025"], "titleX": -50, "titleY": 30, "titleAlign": "left", "titleAnchor": "start", "titleBaseline": "alphabetic", "titleFont": "DejaVu Sans Mono", "titleFontSize": 11.7, "titleFontWeight": "normal", "titleColor": "#000000", "titleLineHeight": 14, "zindex": 1}},
        "y": {"datum": 249, "type": "quantitative",
          "axis": {"orient": "left", "values": [0, 10, 20, 30, 40, 50, 60, 70, 80, 90, 100, 110, 120, 130, 140, 150, 160, 170, 180, 190, 200, 210, 220, 230, 240], "tickCount": 25, "labelExpr": "datum.value % 20 == 0 ? (datum.value == 0 ? '0\u00a0\u00a0' : datum.value + ' m') : ''", "labelFont": "DejaVu Sans Mono", "labelFontSize": 10, "labelColor": "#000000", "labelPadding": 2, "labelOverlap": false, "labelFlush": false, "labelBound": false, "tickSize": 4, "tickColor": "#333333", "tickOpacity": {"condition": {"test": "datum.value % 20 == 0", "value": 1}, "value": 0}, "grid": true, "gridDash": [1, 1], "gridWidth": 1, "gridColor": {"condition": {"test": "datum.value % 20 == 0", "value": "#d02020"}, "value": "#707070"}, "gridOpacity": 0.55, "domainColor": "#333333", "domainWidth": 1, "title": "Seconds", "titleX": -50, "titleY": 100, "titleAngle": -90, "titleAlign": "center", "titleBaseline": "alphabetic", "titleFont": "DejaVu Sans Mono", "titleFontSize": 11.7, "titleFontWeight": "normal", "titleColor": "#000000", "zindex": 1}}
      }
    },
    {
      "data": {"name": "credit"},
      "mark": {"type": "point", "shape": "triangle-right", "filled": true, "size": 36, "color": "#9b1b1b", "opacity": 1},
      "encoding": {
        "x": {"datum": {"year": 2025, "month": 12, "date": 9, "hours": 10, "utc": true}, "type": "temporal",
          "axis": {"values": [{"year": 2024, "month": 12, "date": 16, "utc": true}, {"year": 2024, "month": 12, "date": 23, "utc": true}, {"year": 2024, "month": 12, "date": 30, "utc": true}, {"year": 2025, "month": 1, "date": 1, "utc": true}, {"year": 2025, "month": 1, "date": 6, "utc": true}, {"year": 2025, "month": 1, "date": 13, "utc": true}, {"year": 2025, "month": 1, "date": 16, "utc": true}, {"year": 2025, "month": 1, "date": 20, "utc": true}, {"year": 2025, "month": 1, "date": 27, "utc": true}, {"year": 2025, "month": 2, "date": 1, "utc": true}, {"year": 2025, "month": 2, "date": 3, "utc": true}, {"year": 2025, "month": 2, "date": 10, "utc": true}, {"year": 2025, "month": 2, "date": 17, "utc": true}, {"year": 2025, "month": 2, "date": 24, "utc": true}, {"year": 2025, "month": 3, "date": 1, "utc": true}, {"year": 2025, "month": 3, "date": 3, "utc": true}, {"year": 2025, "month": 3, "date": 10, "utc": true}, {"year": 2025, "month": 3, "date": 16, "utc": true}, {"year": 2025, "month": 3, "date": 17, "utc": true}, {"year": 2025, "month": 3, "date": 24, "utc": true}, {"year": 2025, "month": 3, "date": 31, "utc": true}, {"year": 2025, "month": 4, "date": 1, "utc": true}, {"year": 2025, "month": 4, "date": 7, "utc": true}, {"year": 2025, "month": 4, "date": 14, "utc": true}, {"year": 2025, "month": 4, "date": 21, "utc": true}, {"year": 2025, "month": 4, "date": 28, "utc": true}, {"year": 2025, "month": 5, "date": 1, "utc": true}, {"year": 2025, "month": 5, "date": 5, "utc": true}, {"year": 2025, "month": 5, "date": 12, "utc": true}, {"year": 2025, "month": 5, "date": 16, "utc": true}, {"year": 2025, "month": 5, "date": 19, "utc": true}, {"year": 2025, "month": 5, "date": 26, "utc": true}, {"year": 2025, "month": 6, "date": 1, "utc": true}, {"year": 2025, "month": 6, "date": 2, "utc": true}, {"year": 2025, "month": 6, "date": 9, "utc": true}, {"year": 2025, "month": 6, "date": 16, "utc": true}, {"year": 2025, "month": 6, "date": 23, "utc": true}, {"year": 2025, "month": 6, "date": 30, "utc": true}, {"year": 2025, "month": 7, "date": 1, "utc": true}, {"year": 2025, "month": 7, "date": 7, "utc": true}, {"year": 2025, "month": 7, "date": 14, "utc": true}, {"year": 2025, "month": 7, "date": 16, "utc": true}, {"year": 2025, "month": 7, "date": 21, "utc": true}, {"year": 2025, "month": 7, "date": 28, "utc": true}, {"year": 2025, "month": 8, "date": 1, "utc": true}, {"year": 2025, "month": 8, "date": 4, "utc": true}, {"year": 2025, "month": 8, "date": 11, "utc": true}, {"year": 2025, "month": 8, "date": 18, "utc": true}, {"year": 2025, "month": 8, "date": 25, "utc": true}, {"year": 2025, "month": 9, "date": 1, "utc": true}, {"year": 2025, "month": 9, "date": 8, "utc": true}, {"year": 2025, "month": 9, "date": 15, "utc": true}, {"year": 2025, "month": 9, "date": 16, "utc": true}, {"year": 2025, "month": 9, "date": 22, "utc": true}, {"year": 2025, "month": 9, "date": 29, "utc": true}, {"year": 2025, "month": 10, "date": 1, "utc": true}, {"year": 2025, "month": 10, "date": 6, "utc": true}, {"year": 2025, "month": 10, "date": 13, "utc": true}, {"year": 2025, "month": 10, "date": 20, "utc": true}, {"year": 2025, "month": 10, "date": 27, "utc": true}, {"year": 2025, "month": 11, "date": 1, "utc": true}, {"year": 2025, "month": 11, "date": 3, "utc": true}, {"year": 2025, "month": 11, "date": 10, "utc": true}, {"year": 2025, "month": 11, "date": 16, "utc": true}, {"year": 2025, "month": 11, "date": 17, "utc": true}, {"year": 2025, "month": 11, "date": 24, "utc": true}, {"year": 2025, "month": 12, "date": 1, "utc": true}], "labelExpr": "utcdate(datum.value) == 16 && utcmonth(datum.value) % 2 == 0 ? utcFormat(datum.value, '%B %Y') : ''", "labelFont": "DejaVu Sans Mono", "labelFontSize": 10, "labelColor": "#000000", "labelPadding": 1, "labelOverlap": false, "labelFlush": false, "labelBound": false, "tickSize": 3, "tickColor": "#b03030", "tickOpacity": {"condition": {"test": "utcdate(datum.value) == 1", "value": 1}, "value": 0}, "grid": true, "gridDash": [1, 1], "gridWidth": 1, "gridColor": {"condition": {"test": "utcdate(datum.value) == 1", "value": "#d02020"}, "value": "#707070"}, "gridOpacity": {"condition": {"test": "utcdate(datum.value) == 16 && utcmonth(datum.value) % 2 == 0", "value": 0}, "value": 0.55}, "domainColor": "#000000", "domainWidth": 1, "title": ["median rtt:\u00a0\u00a0178.3 ms avg\u00a0\u00a0202.4 ms max\u00a0\u00a0161.4 ms min\u00a0\u00a0161.7 ms now\u00a0\u00a012.9 ms sd\u00a0\u00a013.8\u00a0\u00a0\u00a0am/s", "packet loss: 1.93 % avg\u00a0\u00a020.15 % max\u00a0\u00a00.00 % min\u00a0\u00a016.18 % now", "loss color:", "probe:\u00a0\u00a0\u00a0\u00a0\u00a0\u00a0\u00a020 ICMP Echo Pings (56 Bytes) every 300s\u00a0\u00a0\u00a0\u00a0\u00a0\u00a0\u00a0\u00a0\u00a0\u00a0\u00a0\u00a0\u00a0\u00a0\u00a0\u00a0\u00a0Sat Dec\u00a0\u00a06 23:45:49 2025"], "titleX": -50, "titleY": 30, "titleAlign": "left", "titleAnchor": "start", "titleBaseline": "alphabetic", "titleFont": "DejaVu Sans Mono", "titleFontSize": 11.7, "titleFontWeight": "normal", "titleColor": "#000000", "titleLineHeight": 14, "zindex": 1}},
        "y": {"datum": 0, "type": "quantitative",
          "axis": {"orient": "left", "values": [0, 10, 20, 30, 40, 50, 60, 70, 80, 90, 100, 110, 120, 130, 140, 150, 160, 170, 180, 190, 200, 210, 220, 230, 240], "tickCount": 25, "labelExpr": "datum.value % 20 == 0 ? (datum.value == 0 ? '0\u00a0\u00a0' : datum.value + ' m') : ''", "labelFont": "DejaVu Sans Mono", "labelFontSize": 10, "labelColor": "#000000", "labelPadding": 2, "labelOverlap": false, "labelFlush": false, "labelBound": false, "tickSize": 4, "tickColor": "#333333", "tickOpacity": {"condition": {"test": "datum.value % 20 == 0", "value": 1}, "value": 0}, "grid": true, "gridDash": [1, 1], "gridWidth": 1, "gridColor": {"condition": {"test": "datum.value % 20 == 0", "value": "#d02020"}, "value": "#707070"}, "gridOpacity": 0.55, "domainColor": "#333333", "domainWidth": 1, "title": "Seconds", "titleX": -50, "titleY": 100, "titleAngle": -90, "titleAlign": "center", "titleBaseline": "alphabetic", "titleFont": "DejaVu Sans Mono", "titleFontSize": 11.7, "titleFontWeight": "normal", "titleColor": "#000000", "zindex": 1}}
      }
    },
    {
      "data": {"name": "credit"},
      "mark": {"type": "text", "angle": 90, "align": "left", "baseline": "alphabetic", "font": "DejaVu Sans Mono", "fontSize": 8, "color": "#b0b0b0"},
      "encoding": {
        "x": {"datum": {"year": 2025, "month": 12, "date": 18, "hours": 2, "utc": true}, "type": "temporal",
          "axis": {"values": [{"year": 2024, "month": 12, "date": 16, "utc": true}, {"year": 2024, "month": 12, "date": 23, "utc": true}, {"year": 2024, "month": 12, "date": 30, "utc": true}, {"year": 2025, "month": 1, "date": 1, "utc": true}, {"year": 2025, "month": 1, "date": 6, "utc": true}, {"year": 2025, "month": 1, "date": 13, "utc": true}, {"year": 2025, "month": 1, "date": 16, "utc": true}, {"year": 2025, "month": 1, "date": 20, "utc": true}, {"year": 2025, "month": 1, "date": 27, "utc": true}, {"year": 2025, "month": 2, "date": 1, "utc": true}, {"year": 2025, "month": 2, "date": 3, "utc": true}, {"year": 2025, "month": 2, "date": 10, "utc": true}, {"year": 2025, "month": 2, "date": 17, "utc": true}, {"year": 2025, "month": 2, "date": 24, "utc": true}, {"year": 2025, "month": 3, "date": 1, "utc": true}, {"year": 2025, "month": 3, "date": 3, "utc": true}, {"year": 2025, "month": 3, "date": 10, "utc": true}, {"year": 2025, "month": 3, "date": 16, "utc": true}, {"year": 2025, "month": 3, "date": 17, "utc": true}, {"year": 2025, "month": 3, "date": 24, "utc": true}, {"year": 2025, "month": 3, "date": 31, "utc": true}, {"year": 2025, "month": 4, "date": 1, "utc": true}, {"year": 2025, "month": 4, "date": 7, "utc": true}, {"year": 2025, "month": 4, "date": 14, "utc": true}, {"year": 2025, "month": 4, "date": 21, "utc": true}, {"year": 2025, "month": 4, "date": 28, "utc": true}, {"year": 2025, "month": 5, "date": 1, "utc": true}, {"year": 2025, "month": 5, "date": 5, "utc": true}, {"year": 2025, "month": 5, "date": 12, "utc": true}, {"year": 2025, "month": 5, "date": 16, "utc": true}, {"year": 2025, "month": 5, "date": 19, "utc": true}, {"year": 2025, "month": 5, "date": 26, "utc": true}, {"year": 2025, "month": 6, "date": 1, "utc": true}, {"year": 2025, "month": 6, "date": 2, "utc": true}, {"year": 2025, "month": 6, "date": 9, "utc": true}, {"year": 2025, "month": 6, "date": 16, "utc": true}, {"year": 2025, "month": 6, "date": 23, "utc": true}, {"year": 2025, "month": 6, "date": 30, "utc": true}, {"year": 2025, "month": 7, "date": 1, "utc": true}, {"year": 2025, "month": 7, "date": 7, "utc": true}, {"year": 2025, "month": 7, "date": 14, "utc": true}, {"year": 2025, "month": 7, "date": 16, "utc": true}, {"year": 2025, "month": 7, "date": 21, "utc": true}, {"year": 2025, "month": 7, "date": 28, "utc": true}, {"year": 2025, "month": 8, "date": 1, "utc": true}, {"year": 2025, "month": 8, "date": 4, "utc": true}, {"year": 2025, "month": 8, "date": 11, "utc": true}, {"year": 2025, "month": 8, "date": 18, "utc": true}, {"year": 2025, "month": 8, "date": 25, "utc": true}, {"year": 2025, "month": 9, "date": 1, "utc": true}, {"year": 2025, "month": 9, "date": 8, "utc": true}, {"year": 2025, "month": 9, "date": 15, "utc": true}, {"year": 2025, "month": 9, "date": 16, "utc": true}, {"year": 2025, "month": 9, "date": 22, "utc": true}, {"year": 2025, "month": 9, "date": 29, "utc": true}, {"year": 2025, "month": 10, "date": 1, "utc": true}, {"year": 2025, "month": 10, "date": 6, "utc": true}, {"year": 2025, "month": 10, "date": 13, "utc": true}, {"year": 2025, "month": 10, "date": 20, "utc": true}, {"year": 2025, "month": 10, "date": 27, "utc": true}, {"year": 2025, "month": 11, "date": 1, "utc": true}, {"year": 2025, "month": 11, "date": 3, "utc": true}, {"year": 2025, "month": 11, "date": 10, "utc": true}, {"year": 2025, "month": 11, "date": 16, "utc": true}, {"year": 2025, "month": 11, "date": 17, "utc": true}, {"year": 2025, "month": 11, "date": 24, "utc": true}, {"year": 2025, "month": 12, "date": 1, "utc": true}], "labelExpr": "utcdate(datum.value) == 16 && utcmonth(datum.value) % 2 == 0 ? utcFormat(datum.value, '%B %Y') : ''", "labelFont": "DejaVu Sans Mono", "labelFontSize": 10, "labelColor": "#000000", "labelPadding": 1, "labelOverlap": false, "labelFlush": false, "labelBound": false, "tickSize": 3, "tickColor": "#b03030", "tickOpacity": {"condition": {"test": "utcdate(datum.value) == 1", "value": 1}, "value": 0}, "grid": true, "gridDash": [1, 1], "gridWidth": 1, "gridColor": {"condition": {"test": "utcdate(datum.value) == 1", "value": "#d02020"}, "value": "#707070"}, "gridOpacity": {"condition": {"test": "utcdate(datum.value) == 16 && utcmonth(datum.value) % 2 == 0", "value": 0}, "value": 0.55}, "domainColor": "#000000", "domainWidth": 1, "title": ["median rtt:\u00a0\u00a0178.3 ms avg\u00a0\u00a0202.4 ms max\u00a0\u00a0161.4 ms min\u00a0\u00a0161.7 ms now\u00a0\u00a012.9 ms sd\u00a0\u00a013.8\u00a0\u00a0\u00a0am/s", "packet loss: 1.93 % avg\u00a0\u00a020.15 % max\u00a0\u00a00.00 % min\u00a0\u00a016.18 % now", "loss color:", "probe:\u00a0\u00a0\u00a0\u00a0\u00a0\u00a0\u00a020 ICMP Echo Pings (56 Bytes) every 300s\u00a0\u00a0\u00a0\u00a0\u00a0\u00a0\u00a0\u00a0\u00a0\u00a0\u00a0\u00a0\u00a0\u00a0\u00a0\u00a0\u00a0Sat Dec\u00a0\u00a06 23:45:49 2025"], "titleX": -50, "titleY": 30, "titleAlign": "left", "titleAnchor": "start", "titleBaseline": "alphabetic", "titleFont": "DejaVu Sans Mono", "titleFontSize": 11.7, "titleFontWeight": "normal", "titleColor": "#000000", "titleLineHeight": 14, "zindex": 1}},
        "y": {"datum": 271.7, "type": "quantitative",
          "axis": {"orient": "left", "values": [0, 10, 20, 30, 40, 50, 60, 70, 80, 90, 100, 110, 120, 130, 140, 150, 160, 170, 180, 190, 200, 210, 220, 230, 240], "tickCount": 25, "labelExpr": "datum.value % 20 == 0 ? (datum.value == 0 ? '0\u00a0\u00a0' : datum.value + ' m') : ''", "labelFont": "DejaVu Sans Mono", "labelFontSize": 10, "labelColor": "#000000", "labelPadding": 2, "labelOverlap": false, "labelFlush": false, "labelBound": false, "tickSize": 4, "tickColor": "#333333", "tickOpacity": {"condition": {"test": "datum.value % 20 == 0", "value": 1}, "value": 0}, "grid": true, "gridDash": [1, 1], "gridWidth": 1, "gridColor": {"condition": {"test": "datum.value % 20 == 0", "value": "#d02020"}, "value": "#707070"}, "gridOpacity": 0.55, "domainColor": "#333333", "domainWidth": 1, "title": "Seconds", "titleX": -50, "titleY": 100, "titleAngle": -90, "titleAlign": "center", "titleBaseline": "alphabetic", "titleFont": "DejaVu Sans Mono", "titleFontSize": 11.7, "titleFontWeight": "normal", "titleColor": "#000000", "zindex": 1}},
        "text": {"field": "label"}
      }
    }
  ]
}
